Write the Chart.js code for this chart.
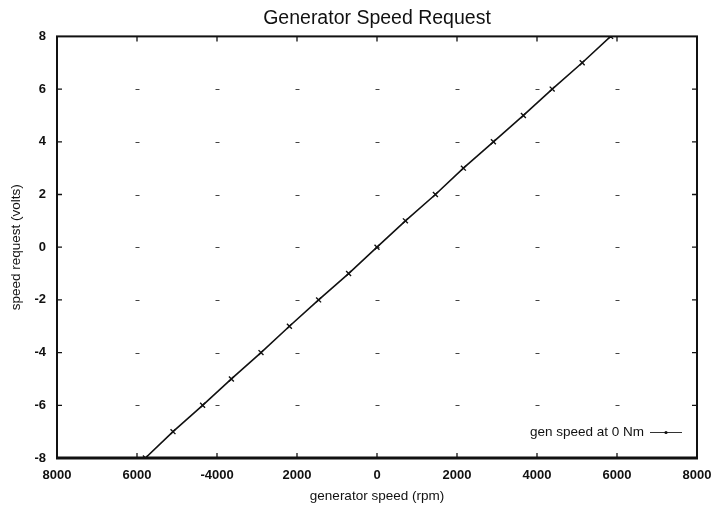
<!DOCTYPE html>
<html>
<head>
<meta charset="utf-8">
<title>Generator Speed Request</title>
<script src="https://cdn.jsdelivr.net/npm/chart.js@4/dist/chart.umd.min.js"></script>
<style>
  html, body { margin: 0; padding: 0; background: #ffffff; }
  #wrap { width: 715px; height: 509px; }
</style>
</head>
<body>
<div id="wrap"><canvas id="chart" width="715" height="509"></canvas></div>
<script>
// Generator speed (rpm) at which each speed request (volts) is reached, no load torque
const speedRequestVolts = [-8, -7, -6, -5, -4, -3, -2, -1, 0, 1, 2, 3, 4, 5, 6, 7, 8];
const generatorSpeedRpm = [-5790, -5100, -4360, -3640, -2900, -2190, -1460, -710, 0,
                           710, 1460, 2160, 2910, 3660, 4380, 5130, 5840];

// Axis ticks
const xTickValues = [-8000, -6000, -4000, -2000, 0, 2000, 4000, 6000, 8000];
const xTickLabels = ['8000', '6000', '-4000', '2000', '0', '2000', '4000', '6000', '8000'];
const yTickValues = [-8, -6, -4, -2, 0, 2, 4, 6, 8];
const yTickLabels = ['-8', '-6', '-4', '-2', '0', '2', '4', '6', '8'];

const seriesLabel = 'gen speed at 0 Nm';
const FONT = '"Liberation Sans", Arial, Helvetica, sans-serif';
const INK = '#111111';

// Frame, inward tick marks, grid dots and the in-plot key
const framePlugin = {
  id: 'frame',
  beforeDatasetsDraw(chart) {
    const { ctx, chartArea: a, scales: { x, y } } = chart;
    ctx.save();
    // faint grid remnants at the intersections
    ctx.strokeStyle = '#444444';
    ctx.lineWidth = 1;
    for (const xv of xTickValues.slice(1, -1)) {
      for (const yv of yTickValues.slice(1, -1)) {
        const px = Math.round(x.getPixelForValue(xv)) + 0.5;
        const py = Math.round(y.getPixelForValue(yv)) + 0.5;
        ctx.beginPath();
        ctx.moveTo(px - 2, py);
        ctx.lineTo(px + 2, py);
        ctx.stroke();
      }
    }
    // inward ticks on all four sides
    ctx.strokeStyle = INK;
    ctx.lineWidth = 1.3;
    const tl = 5;
    for (const xv of xTickValues.slice(1, -1)) {
      const px = x.getPixelForValue(xv);
      ctx.beginPath();
      ctx.moveTo(px, a.bottom); ctx.lineTo(px, a.bottom - tl);
      ctx.moveTo(px, a.top); ctx.lineTo(px, a.top + tl);
      ctx.stroke();
    }
    for (const yv of yTickValues.slice(1, -1)) {
      const py = y.getPixelForValue(yv);
      ctx.beginPath();
      ctx.moveTo(a.left, py); ctx.lineTo(a.left + tl, py);
      ctx.moveTo(a.right, py); ctx.lineTo(a.right - tl, py);
      ctx.stroke();
    }
    ctx.restore();
  },
  afterDatasetsDraw(chart) {
    const { ctx, chartArea: a } = chart;
    ctx.save();
    // plot frame
    ctx.strokeStyle = INK;
    ctx.lineWidth = 2;
    ctx.strokeRect(a.left, a.top, a.right - a.left, a.bottom - a.top);
    ctx.lineWidth = 3;
    ctx.beginPath();
    ctx.moveTo(a.left - 1, a.bottom);
    ctx.lineTo(a.right + 1, a.bottom);
    ctx.stroke();

    // key, bottom right inside the plot
    const ds = chart.data.datasets[0];
    const ky = a.bottom - 26;
    const lineEnd = a.right - 15;
    const lineStart = lineEnd - 32;
    ctx.font = '13.5px ' + FONT;
    ctx.fillStyle = INK;
    ctx.textAlign = 'right';
    ctx.textBaseline = 'middle';
    ctx.fillText(ds.label, lineStart - 6, ky);
    ctx.strokeStyle = '#333333';
    ctx.lineWidth = 1;
    ctx.beginPath();
    ctx.moveTo(lineStart, ky + 0.5);
    ctx.lineTo(lineEnd, ky + 0.5);
    ctx.stroke();
    ctx.fillStyle = INK;
    ctx.beginPath();
    ctx.arc((lineStart + lineEnd) / 2, ky + 0.5, 1.6, 0, Math.PI * 2);
    ctx.fill();
    ctx.restore();
  }
};

const points = generatorSpeedRpm.map((rpm, i) => ({ x: rpm, y: speedRequestVolts[i] }));

new Chart(document.getElementById('chart'), {
  type: 'scatter',
  data: {
    datasets: [{
      label: seriesLabel,
      data: points,
      showLine: true,
      borderColor: INK,
      borderWidth: 1.6,
      pointStyle: 'crossRot',
      pointRadius: 3.5,
      pointBorderWidth: 1.4,
      pointBorderColor: INK,
      pointBackgroundColor: INK,
      tension: 0
    }]
  },
  options: {
    responsive: false,
    devicePixelRatio: 1,
    animation: false,
    layout: { padding: { left: 0, right: 18, top: 0, bottom: 0 } },
    plugins: {
      legend: { display: false },
      tooltip: { enabled: false },
      title: {
        display: true,
        text: 'Generator Speed Request',
        fullSize: false,
        color: INK,
        font: { family: FONT, size: 19.5, weight: 'normal' },
        padding: { top: 7, bottom: 6 }
      }
    },
    scales: {
      x: {
        type: 'linear',
        min: -8000,
        max: 8000,
        afterBuildTicks: (scale) => { scale.ticks = xTickValues.map(v => ({ value: v })); },
        afterFit: (scale) => {
          scale.height = 51;
          scale.paddingLeft = 0;
          scale.paddingRight = 0;
        },
        grid: { display: false, drawTicks: false },
        border: { display: false },
        ticks: {
          padding: 10,
          color: INK,
          maxRotation: 0,
          autoSkip: false,
          font: { family: FONT, size: 13, weight: 'bold' },
          callback: (v, i) => xTickLabels[i]
        },
        title: {
          display: true,
          text: 'generator speed (rpm)',
          color: INK,
          font: { family: FONT, size: 13.5, weight: 'normal' },
          padding: { top: 0, bottom: 5 }
        }
      },
      y: {
        type: 'linear',
        min: -8,
        max: 8,
        afterBuildTicks: (scale) => { scale.ticks = yTickValues.map(v => ({ value: v })); },
        afterFit: (scale) => {
          scale.width = 57;
          scale.paddingTop = 0;
          scale.paddingBottom = 0;
        },
        grid: { display: false, drawTicks: false },
        border: { display: false },
        ticks: {
          padding: 11,
          color: INK,
          autoSkip: false,
          font: { family: FONT, size: 13, weight: 'bold' },
          callback: (v, i) => yTickLabels[i]
        },
        title: {
          display: true,
          text: 'speed request (volts)',
          color: INK,
          font: { family: FONT, size: 13.5, weight: 'normal' },
          padding: { top: 8, bottom: 0 }
        }
      }
    }
  },
  plugins: [framePlugin]
});
</script>
</body>
</html>
